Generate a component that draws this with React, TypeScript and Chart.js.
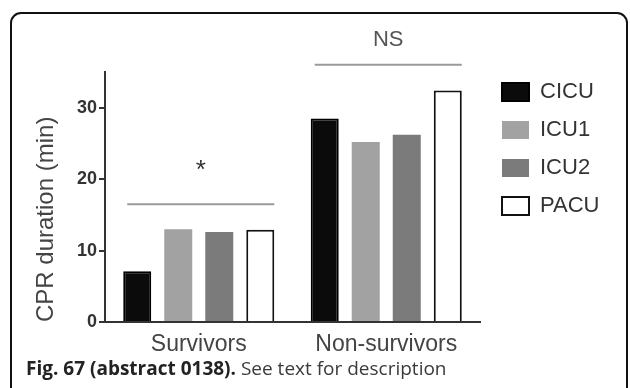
import React, { useEffect, useRef } from 'react';
import { Chart, registerables } from 'chart.js';

Chart.register(...registerables);

// ---- data ----
const categories = ['Survivors', 'Non-survivors'];
const seriesNames = ['CICU', 'ICU1', 'ICU2', 'PACU'];
const cicuValues = [7.1, 28.5];
const icu1Values = [13.0, 25.2];
const icu2Values = [12.6, 26.2];
const pacuValues = [12.9, 32.4];
const yTickValues = [0, 10, 20, 30];
const yAxisMax = 35;
const bracketLevels = [16.5, 36];
const bracketLabels = ['*', 'NS'];
const yAxisTitle = 'CPR duration (min)';
const captionBold = 'Fig. 67 (abstract 0138).';
const captionText = ' See text for description';

const FONT = '"Liberation Sans", Arial, Helvetica, sans-serif';
const LEGEND_FONT_SIZE = 22;
const LEGEND_BOX_W = 27;
const LEGEND_PAD = 16;
const SPACER_W = 6;
const TARGET_RIGHT = 480;

const bracketPlugin = {
  id: 'brackets',
  afterDatasetsDraw(chart: any) {
    const { ctx } = chart;
    const y = chart.scales.y;
    const firstMeta = chart.getDatasetMeta(0);
    const lastMeta = chart.getDatasetMeta(seriesNames.length - 1);
    categories.forEach((_, i) => {
      const a = firstMeta.data[i].getProps(['x', 'width'], true);
      const b = lastMeta.data[i].getProps(['x', 'width'], true);
      const x0 = a.x - a.width / 2 + 4;
      const x1 = b.x + b.width / 2;
      const yy = y.getPixelForValue(bracketLevels[i]);
      ctx.save();
      ctx.strokeStyle = '#9a9a9a';
      ctx.lineWidth = 2;
      ctx.beginPath();
      ctx.moveTo(x0, yy);
      ctx.lineTo(x1, yy);
      ctx.stroke();
      const label = bracketLabels[i];
      const isStar = label === '*';
      ctx.fillStyle = isStar ? '#333' : '#555';
      ctx.font = isStar ? `26px ${FONT}` : `22px ${FONT}`;
      ctx.textAlign = 'center';
      ctx.textBaseline = 'alphabetic';
      ctx.fillText(label, (x0 + x1) / 2, yy - (isStar ? 26 : 19));
      ctx.restore();
    });
  },
};

export default function App() {
  const canvasRef = useRef<HTMLCanvasElement | null>(null);

  useEffect(() => {
    if (!canvasRef.current) return;
    const mctx = canvasRef.current.getContext('2d')!;
    mctx.font = `${LEGEND_FONT_SIZE}px ${FONT}`;
    const maxText = Math.max(...seriesNames.map((n) => mctx.measureText(n).width));
    const legendWidth = LEGEND_PAD + LEGEND_BOX_W + LEGEND_FONT_SIZE / 2 + maxText;
    const rightPad = Math.max(0, 630 - TARGET_RIGHT - SPACER_W - legendWidth);

    const colors = ['#0b0b0b', '#a2a2a2', '#7b7b7b', '#ffffff'];
    const borders = ['#000000', '#a2a2a2', '#7b7b7b', '#111111'];
    const borderWidths = [2, 0, 0, 2];
    const values = [cicuValues, icu1Values, icu2Values, pacuValues];
    const chart = new Chart(canvasRef.current, {
      type: 'bar',
      data: {
        labels: categories,
        datasets: seriesNames.map((name, i) => ({
          label: name,
          data: values[i],
          backgroundColor: colors[i],
          borderColor: borders[i],
          borderWidth: borderWidths[i],
          categoryPercentage: 0.875,
          barPercentage: 0.683,
        })),
      },
      options: {
        animation: false,
        responsive: false,
        devicePixelRatio: 1,
        layout: { padding: { left: 0, top: 65, right: rightPad, bottom: 26 } },
        plugins: {
          tooltip: { enabled: false },
          legend: {
            position: 'right',
            align: 'start',
            labels: {
              boxWidth: LEGEND_BOX_W,
              boxHeight: 18,
              padding: LEGEND_PAD,
              color: '#333',
              font: { size: LEGEND_FONT_SIZE, family: FONT },
            },
          },
        },
        scales: {
          x: {
            type: 'category',
            grid: { display: false, drawTicks: false },
            border: { display: true, color: '#333', width: 2 },
            ticks: {
              color: '#444',
              padding: 9,
              font: { size: 23, family: FONT },
              maxRotation: 0,
            },
            afterFit: (s: any) => {
              s.height = 40;
            },
          },
          x2: {
            type: 'linear',
            position: 'top',
            display: true,
            grid: { display: false, drawTicks: false },
            border: { display: false },
            ticks: { display: false },
            afterFit: (s: any) => {
              s.height = 7;
            },
          },
          y: {
            type: 'linear',
            min: 0,
            max: yAxisMax,
            grid: {
              display: true,
              drawOnChartArea: false,
              drawTicks: true,
              tickLength: 6,
              color: '#333',
              lineWidth: 2,
            },
            border: { display: true, color: '#333', width: 2 },
            ticks: {
              color: '#333',
              padding: 2,
              font: { size: 18, weight: 'bold', family: FONT },
            },
            afterBuildTicks: (s: any) => {
              s.ticks = yTickValues.map((v) => ({ value: v }));
            },
            title: {
              display: true,
              text: yAxisTitle,
              align: 'start',
              color: '#444',
              font: { size: 24, family: FONT },
              padding: { top: 32, bottom: 0 },
            },
            afterFit: (s: any) => {
              s.width = 105;
            },
          },
          y2: {
            type: 'linear',
            position: 'right',
            display: false,
            afterFit: (s: any) => {
              s.width = SPACER_W;
            },
          },
        },
      },
      plugins: [bracketPlugin],
    } as any);
    // calibrate right padding so the plot area ends where the reference axis ends
    const diff = chart.chartArea.right - TARGET_RIGHT;
    if (Math.abs(diff) > 0.5) {
      (chart.options as any).layout.padding.right = Math.max(0, rightPad + diff);
      chart.update();
    }
    return () => chart.destroy();
  }, []);

  return (
    <div
      style={{
        position: 'fixed',
        left: 0,
        top: 0,
        width: 630,
        height: 388,
        overflow: 'hidden',
        background: '#fff',
      }}
    >
      <canvas
        ref={canvasRef}
        width={630}
        height={388}
        style={{ position: 'absolute', left: 0, top: 0, display: 'block' }}
      />
      <div
        style={{
          position: 'absolute',
          left: 10,
          top: 12,
          width: 618,
          height: 420,
          boxSizing: 'border-box',
          border: '2px solid #111',
          borderRadius: 11,
          pointerEvents: 'none',
        }}
      />
      <div
        style={{
          position: 'absolute',
          left: 26,
          top: 359,
          whiteSpace: 'nowrap',
          fontFamily: '"Open Sans", sans-serif',
          fontSize: 19,
          lineHeight: '19px',
          color: '#3a3a3a',
        }}
      >
        <span style={{ fontWeight: 'bold', color: '#222' }}>{captionBold}</span>
        {captionText}
      </div>
    </div>
  );
}
